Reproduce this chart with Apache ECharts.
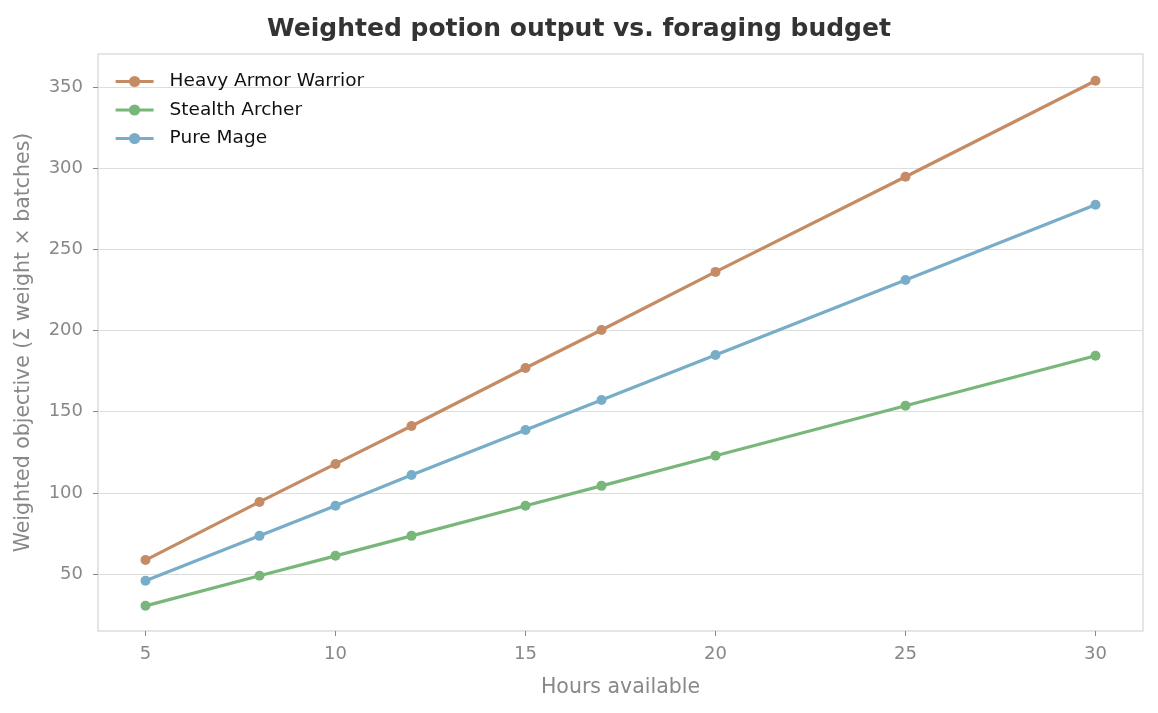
<!DOCTYPE html>
<html><head><meta charset="utf-8">
<script src="https://cdn.jsdelivr.net/npm/echarts@6/dist/echarts.min.js"></script>
<style>html,body{margin:0;padding:0;background:#fff}#c{width:1158px;height:713px}</style>
</head><body><div id="c"></div>
<script>
const hours = [5, 8, 10, 12, 15, 17, 20, 25, 30];
const heavyArmorWarrior = [58.6, 94.4, 117.8, 141.2, 176.9, 200.3, 236.1, 294.7, 353.8];
const stealthArcher = [30.4, 48.9, 61.2, 73.5, 92.0, 104.3, 122.8, 153.6, 184.4];
const pureMage = [45.8, 73.5, 92.0, 111.0, 138.7, 157.2, 184.9, 231.1, 277.4];
const xTicks = [5, 10, 15, 20, 25, 30];
const yTicks = [50, 100, 150, 200, 250, 300, 350];
const seriesNames = ['Heavy Armor Warrior', 'Stealth Archer', 'Pure Mage'];
const colors = ['#C48B64', '#78B67A', '#78ADC8'];
const FONT = 'DejaVu Sans';
const pair = (ys) => hours.map((h, i) => [h, ys[i]]);
const chart = echarts.init(document.getElementById('c'));
chart.setOption({
  animation: false,
  backgroundColor: '#fff',
  title: {text: 'Weighted potion output vs. foraging budget', left: 'center', top: 12,
    textStyle: {fontFamily: FONT, fontSize: 25, fontWeight: 'bold', color: '#333'}},
  legend: {left: 109, top: 67, orient: 'vertical', itemGap: 9.5, itemWidth: 38, itemHeight: 14,
    lineStyle: {width: 3.2},
    textStyle: {fontFamily: FONT, fontSize: 18.5, color: '#111', padding: [0, 0, 0, 11]},
    data: seriesNames},
  grid: {left: 98, right: 15, top: 54, bottom: 82, show: true, borderColor: '#dddddd', borderWidth: 1.5},
  xAxis: {type: 'value', min: 3.75, max: 31.25,
    name: 'Hours available', nameLocation: 'middle', nameGap: 46,
    nameTextStyle: {fontFamily: FONT, fontSize: 20.5, color: '#888'},
    axisLine: {show: false},
    axisTick: {show: true, length: 5, lineStyle: {color: '#888'}, customValues: xTicks},
    axisLabel: {fontFamily: FONT, fontSize: 18, color: '#888', margin: 14, customValues: xTicks},
    splitLine: {show: false}},
  yAxis: {type: 'value', min: 14.9, max: 370.3,
    name: 'Weighted objective (Σ weight × batches)', nameLocation: 'middle', nameGap: 64,
    nameTextStyle: {fontFamily: FONT, fontSize: 20.5, color: '#888'},
    axisLine: {show: false},
    axisTick: {show: true, length: 5, lineStyle: {color: '#888'}, customValues: yTicks},
    axisLabel: {fontFamily: FONT, fontSize: 18, color: '#888', margin: 15, customValues: yTicks},
    splitLine: {show: true, lineStyle: {color: '#dddddd', width: 1}}},
  series: [heavyArmorWarrior, stealthArcher, pureMage].map((d, i) => ({
    name: seriesNames[i], type: 'line', data: pair(d), color: colors[i],
    symbol: 'circle', symbolSize: 10, lineStyle: {width: 3.2, color: colors[i]},
    itemStyle: {color: colors[i]}
  }))
});
</script></body></html>
